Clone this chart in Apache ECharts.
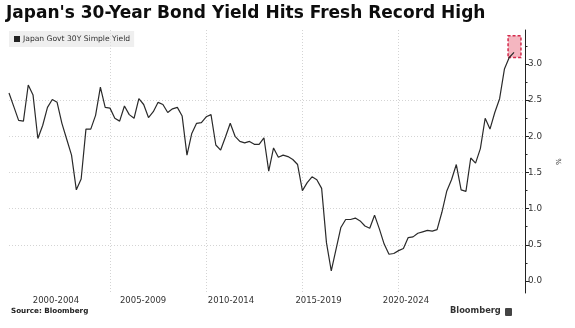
<!DOCTYPE html>
<html>
<head>
<meta charset="utf-8">
<script src="https://cdn.jsdelivr.net/npm/echarts@6/dist/echarts.min.js"></script>
<style>
  html, body { margin: 0; padding: 0; background: #ffffff; }
  #chart { width: 575px; height: 328px; }
</style>
</head>
<body>
<div id="chart"></div>
<script>
// Japan government 30-year bond simple yield, quarterly, %
const seriesName = 'Japan Govt 30Y Simple Yield';
const firstQuarter = 1999.75;   // Q4 1999, in fractional years
const quarterStep = 0.25;
const yields = [
  2.60, 2.41, 2.22, 2.21, 2.71, 2.57, 1.97, 2.15, 2.40, 2.51,
  2.47, 2.18, 1.96, 1.74, 1.26, 1.41, 2.10, 2.10, 2.29, 2.68,
  2.40, 2.39, 2.25, 2.21, 2.42, 2.30, 2.25, 2.52, 2.44, 2.26,
  2.34, 2.47, 2.44, 2.33, 2.38, 2.40, 2.28, 1.74, 2.04, 2.18,
  2.19, 2.27, 2.30, 1.88, 1.81, 1.99, 2.18, 2.00, 1.93, 1.91,
  1.93, 1.89, 1.89, 1.98, 1.52, 1.84, 1.71, 1.74, 1.72, 1.68,
  1.61, 1.25, 1.36, 1.44, 1.40, 1.28, 0.53, 0.14, 0.44, 0.74,
  0.85, 0.85, 0.87, 0.83, 0.76, 0.73, 0.91, 0.72, 0.51, 0.37,
  0.38, 0.42, 0.45, 0.60, 0.61, 0.66, 0.68, 0.70, 0.69, 0.71,
  0.95, 1.24, 1.40, 1.61, 1.26, 1.24, 1.70, 1.63, 1.83, 2.25,
  2.10, 2.33, 2.52, 2.93, 3.09, 3.16
];

// Period captions along the bottom and where they sit on the year scale
const periodLabels = ['2000-2004', '2005-2009', '2010-2014', '2015-2019', '2020-2024'];
const periodLabelAt = [2002.19, 2006.72, 2011.29, 2015.84, 2020.38];
const periodBreaks = [2000, 2005, 2010, 2015, 2020, 2025];

// Y axis ticks (%)
const yTickValues = [0, 0.5, 1.0, 1.5, 2.0, 2.5, 3.0];

// Highlighted record-high region: [x from, x to] years, [y from, y to] %
const recordBoxX = [2025.69, 2026.36];
const recordBoxY = [3.09, 3.39];

const points = yields.map((v, i) => [firstQuarter + i * quarterStep, v]);

const FONT = 'DejaVu Sans';
const INK = '#333333';

const chart = echarts.init(document.getElementById('chart'), null, { renderer: 'canvas' });

chart.setOption({
  animation: false,
  backgroundColor: '#ffffff',
  title: {
    text: "Japan's 30-Year Bond Yield Hits Fresh Record High",
    left: 6,
    top: 5,
    padding: 0,
    textStyle: { fontFamily: FONT, fontWeight: 'bold', fontSize: 17, color: '#0d0d0d' }
  },
  legend: {
    left: 9,
    top: 31,
    padding: [4, 4, 4, 5],
    itemWidth: 6,
    itemHeight: 6,
    itemGap: 4,
    backgroundColor: 'rgba(226,226,226,0.55)',
    data: [{ name: seriesName, icon: 'rect' }],
    textStyle: { fontFamily: FONT, fontSize: 7.6, color: INK, padding: [0, 0, 0, -2] }
  },
  grid: { left: 9, right: 50, top: 30, bottom: 35, containLabel: false },
  xAxis: {
    type: 'value',
    min: 1999.75,
    max: 2026.57,
    axisLine: { show: false },
    axisTick: { show: false, customValues: periodBreaks },
    axisLabel: {
      customValues: periodLabelAt,
      formatter: v => {
        const i = periodLabelAt.findIndex(p => Math.abs(p - v) < 1e-6);
        return i >= 0 ? periodLabels[i] : '';
      },
      fontFamily: FONT,
      fontSize: 8.5,
      color: INK,
      margin: 3
    },
    splitLine: {
      show: true,
      showMinLine: false,
      showMaxLine: false,
      lineStyle: { color: '#d4d4d4', type: [1, 2], width: 1 }
    }
  },
  yAxis: {
    type: 'value',
    position: 'right',
    min: -0.166,
    max: 3.47,
    splitNumber: 7,
    name: '%',
    nameLocation: 'middle',
    nameGap: 29,
    nameRotate: -90,
    nameTextStyle: { fontFamily: FONT, fontSize: 7, color: INK },
    axisLine: { show: true, lineStyle: { color: '#222222', width: 1 } },
    axisTick: { show: true, length: 4, customValues: yTickValues, lineStyle: { color: '#222222' } },
    minorTick: { show: true, splitNumber: 2, length: 2.5, lineStyle: { color: '#222222' } },
    axisLabel: {
      customValues: yTickValues,
      formatter: v => v.toFixed(1),
      fontFamily: FONT,
      fontSize: 8.8,
      color: INK,
      margin: 3
    },
    splitLine: {
      show: true,
      showMinLine: false,
      showMaxLine: false,
      lineStyle: { color: '#d4d4d4', type: [1, 2], width: 1 }
    }
  },
  series: [{
    name: seriesName,
    type: 'line',
    data: points,
    showSymbol: false,
    symbol: 'none',
    color: '#222222',
    lineStyle: { color: '#2a2a2a', width: 1.2 },
    markArea: {
      silent: true,
      itemStyle: {
        color: 'rgba(234,110,130,0.5)',
        borderColor: '#d42a4c',
        borderWidth: 1.5,
        borderType: [3, 2]
      },
      data: [[
        { xAxis: recordBoxX[0], yAxis: recordBoxY[0] },
        { xAxis: recordBoxX[1], yAxis: recordBoxY[1] }
      ]]
    }
  }],
  graphic: [
    {
      type: 'text',
      left: 11,
      top: 308,
      style: { text: 'Source: Bloomberg', fontFamily: FONT, fontWeight: 'bold', fontSize: 7.2, fill: '#222222' }
    },
    {
      type: 'text',
      left: 450,
      top: 307,
      style: { text: 'Bloomberg', fontFamily: FONT, fontWeight: 'bold', fontSize: 8.3, fill: '#333333' }
    },
    {
      type: 'rect',
      left: 505,
      top: 308,
      shape: { width: 7, height: 8, r: 1 },
      style: { fill: '#444444' }
    }
  ]
});
</script>
</body>
</html>
